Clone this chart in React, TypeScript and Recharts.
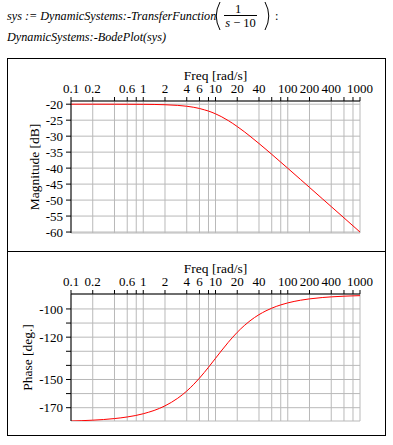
import { LineChart, Line, XAxis, YAxis, CartesianGrid } from 'recharts';

// Bode plot of 1/(s-10)
const freq = [0.1, 0.2, 0.4, 0.6, 1, 2, 3, 4, 5, 6, 7, 8, 10, 12, 15, 20, 25, 30, 40, 50, 60, 80, 100, 150, 200, 300, 400, 600, 800, 1000];
const magnitudeDb = [-20.0, -20.0, -20.01, -20.02, -20.04, -20.17, -20.37, -20.64, -20.97, -21.34, -21.76, -22.15, -23.01, -23.87, -25.12, -26.99, -28.6, -30.0, -32.3, -34.15, -35.68, -38.13, -40.04, -43.54, -46.03, -49.55, -52.04, -55.56, -58.06, -60.0];
const phaseDeg = [-179.43, -178.85, -177.71, -176.57, -174.29, -168.69, -163.3, -158.2, -153.43, -149.04, -145.01, -141.34, -135.0, -129.81, -123.69, -116.57, -111.8, -108.43, -104.04, -101.31, -99.46, -97.13, -95.71, -93.81, -92.86, -91.91, -91.43, -90.95, -90.72, -90.57];

const freqTicks = [0.1, 0.2, 0.4, 0.6, 0.8, 1, 2, 4, 6, 8, 10, 20, 40, 60, 80, 100, 200, 400, 600, 800, 1000];
const freqLabels = [0.1, 0.2, 0.6, 1, 2, 4, 6, 10, 20, 40, 100, 200, 400, 1000];
const magTicks = [-60, -55, -50, -45, -40, -35, -30, -25, -20];
const phaseTicks = [-170, -160, -150, -140, -130, -120, -110, -100];
const phaseLabels = [-170, -150, -120, -100];

const magData = freq.map((f, i) => ({ f, v: magnitudeDb[i] }));
const phaseData = freq.map((f, i) => ({ f, v: phaseDeg[i] }));

const serif = '"Liberation Serif", "Times New Roman", serif';
const tickStyle = { fill: '#000', fontSize: 13, fontFamily: serif };
const gridColor = '#b9b9b9';

const fmtFreq = (v: number) => (freqLabels.includes(v) ? String(v) : '');

function BodePanel({
  data,
  height,
  marginBottom,
  yDomain,
  yTicks,
  yFormatter,
  yLabel,
  yLabelX,
}: {
  data: { f: number; v: number }[];
  height: number;
  marginBottom: number;
  yDomain: [number, number];
  yTicks: number[];
  yFormatter: (v: number) => string;
  yLabel: string;
  yLabelX: number;
}) {
  const renderYLabel = (props: any) => {
    const vb = props.viewBox || {};
    const cy = (vb.y ?? 0) + (vb.height ?? 0) / 2;
    return (
      <text
        x={yLabelX}
        y={cy}
        transform={`rotate(-90 ${yLabelX} ${cy})`}
        textAnchor="middle"
        dominantBaseline="central"
        fill="#000"
        fontSize={13.5}
        fontFamily={serif}
      >
        {yLabel}
      </text>
    );
  };

  return (
    <LineChart width={385} height={height} data={data} margin={{ top: 13, right: 25, bottom: marginBottom, left: 21 }}>
      <CartesianGrid stroke={gridColor} strokeWidth={1} />
      <XAxis
        dataKey="f"
        type="number"
        scale="log"
        domain={[0.1, 1000]}
        allowDataOverflow
        ticks={freqTicks}
        interval={0}
        orientation="top"
        height={30}
        tickSize={4}
        tickMargin={4}
        tickFormatter={fmtFreq}
        axisLine={{ stroke: '#000' }}
        tickLine={{ stroke: '#000' }}
        tick={tickStyle}
        label={{
          value: 'Freq [rad/s]',
          position: 'insideTop',
          offset: -1,
          style: { fill: '#000', fontSize: 13.5, fontFamily: serif },
        }}
      />
      <YAxis
        type="number"
        domain={yDomain}
        allowDataOverflow
        ticks={yTicks}
        interval={0}
        width={50}
        tickSize={5}
        tickMargin={3}
        tickFormatter={yFormatter}
        axisLine={{ stroke: '#000' }}
        tickLine={{ stroke: '#000' }}
        tick={tickStyle}
        label={{ content: renderYLabel }}
      />
      <Line dataKey="v" type="monotone" stroke="#ff0000" strokeWidth={1} dot={false} isAnimationActive={false} />
    </LineChart>
  );
}

export default function App() {
  return (
    <div style={{ position: 'absolute', left: 0, top: 0, width: 393, height: 445, background: '#fff' }}>
      <svg width={393} height={50} style={{ position: 'absolute', left: 0, top: 0 }} fontFamily={serif} fontSize={12.2}>
        <text x={7} y={19.5} fontStyle="italic">sys := DynamicSystems:-TransferFunction</text>
        <path d="M220 2 Q212.5 16 220 30" stroke="#000" fill="none" />
        <text x={238} y={12.7} textAnchor="middle" fontSize={12.5}>1</text>
        <line x1={224} x2={257} y1={15.5} y2={15.5} stroke="#000" strokeWidth={1} />
        <text x={240.5} y={26.7} textAnchor="middle" fontSize={12.5}>
          <tspan fontStyle="italic">s</tspan> − 10
        </text>
        <path d="M265 2 Q272.5 16 265 30" stroke="#000" fill="none" />
        <text x={275} y={20}>:</text>
        <text x={7} y={40.7} fontStyle="italic">DynamicSystems:-BodePlot(sys)</text>
      </svg>

      <div style={{ position: 'absolute', left: 7, top: 58, width: 377, height: 376, border: '1px solid #000' }} />
      <div style={{ position: 'absolute', left: 7, top: 251, width: 379, height: 1, background: '#000' }} />

      <div style={{ position: 'absolute', left: 0, top: 58 }}>
        <BodePanel
          data={magData}
          height={193}
          marginBottom={18}
          yDomain={[-60.3, -19]}
          yTicks={magTicks}
          yFormatter={(v) => String(v)}
          yLabel="Magnitude [dB]"
          yLabelX={34}
        />
      </div>
      <div style={{ position: 'absolute', left: 0, top: 251 }}>
        <BodePanel
          data={phaseData}
          height={184}
          marginBottom={14}
          yDomain={[-179.43, -89.4]}
          yTicks={phaseTicks}
          yFormatter={(v) => (phaseLabels.includes(v) ? String(v) : '')}
          yLabel="Phase [deg.]"
          yLabelX={27}
        />
      </div>
    </div>
  );
}
